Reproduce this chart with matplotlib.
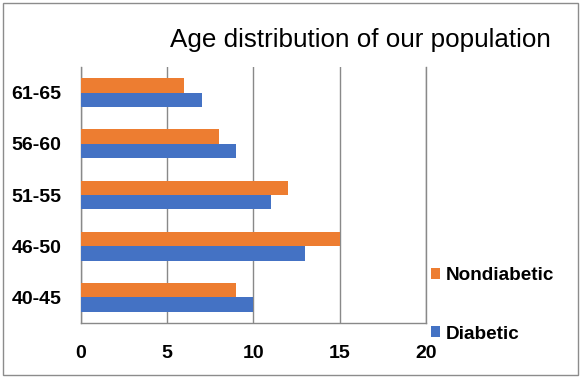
import matplotlib
matplotlib.use("Agg")
import matplotlib.pyplot as plt
import numpy as np
from matplotlib.patches import Rectangle

# --- data ---
age_groups = ["40-45", "46-50", "51-55", "56-60", "61-65"]
diabetic = [10, 13, 11, 9, 7]
nondiabetic = [9, 15, 12, 8, 6]
x_ticks = [0, 5, 10, 15, 20]

blue = "#4472C4"
orange = "#ED7D31"
grid_gray = "#898989"

plt.rcParams["font.family"] = ["Liberation Sans", "DejaVu Sans"]

fig = plt.figure(figsize=(5.81, 3.78), dpi=100)
ax = fig.add_axes([81 / 581, 1 - 323 / 378, 345 / 581, 256 / 378])

y = np.arange(len(age_groups))
h = 0.28
ax.barh(y - h / 2, diabetic, height=h, color=blue, label="Diabetic", zorder=3)
ax.barh(y + h / 2, nondiabetic, height=h, color=orange, label="Nondiabetic", zorder=3)

ax.set_xlim(0, 20)
ax.set_ylim(-0.5, len(age_groups) - 0.5)
ax.set_xticks(x_ticks)
ax.set_yticks(y)
ax.set_yticklabels(age_groups)
ax.tick_params(axis="both", length=0, labelsize=14)
ax.tick_params(axis="x", pad=16)
ax.tick_params(axis="y", pad=14)
for lbl in ax.get_xticklabels() + ax.get_yticklabels():
    lbl.set_fontweight("bold")

# vertical grid lines only, the right spine stands in for the line at 20
ax.grid(axis="x", color=grid_gray, linewidth=1, zorder=0)
ax.grid(axis="y", visible=False)
ax.spines["top"].set_visible(False)
for side in ["left", "bottom", "right"]:
    ax.spines[side].set_color(grid_gray)
    ax.spines[side].set_linewidth(1)

fig.text(360 / 581, 1 - 40 / 378, "Age distribution of our population",
         ha="center", va="center", fontsize=18.7)

handles, labels = ax.get_legend_handles_labels()
fig.legend(handles[::-1], labels[::-1], loc="upper left",
           bbox_to_anchor=(414 / 581, 1 - 250 / 378), frameon=False,
           prop={"size": 13.6, "weight": "bold"},
           handlelength=0.5, handleheight=0.5, handletextpad=0.3,
           labelspacing=2.2)

# outer frame of the chart
fig.patches.append(Rectangle((3 / 581, 3 / 378), 575 / 581, 372 / 378,
                             transform=fig.transFigure, fill=False,
                             edgecolor="#8c8c8c", linewidth=1))

fig.savefig("out.png", dpi=100)
